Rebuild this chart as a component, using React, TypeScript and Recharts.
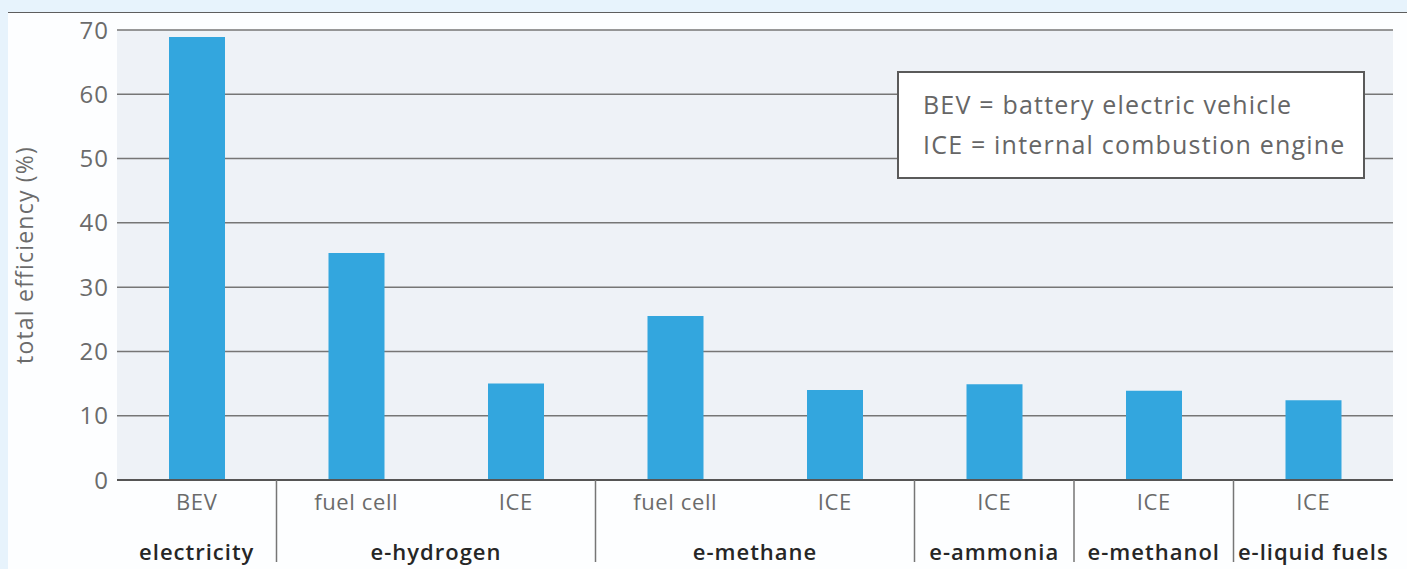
import { BarChart, Bar, XAxis, YAxis, CartesianGrid, Label } from 'recharts';

// bar categories (sub labels under each bar) and the group each bar belongs to
const techLabels = ['BEV', 'fuel cell', 'ICE', 'fuel cell', 'ICE', 'ICE', 'ICE', 'ICE'];
const groupLabels = ['electricity', 'e-hydrogen', 'e-methane', 'e-ammonia', 'e-methanol', 'e-liquid fuels'];
const barGroups = [0, 1, 1, 2, 2, 3, 4, 5];
const efficiency = [68.9, 35.3, 15.0, 25.5, 14.0, 14.9, 13.9, 12.4];
const yTicks = [0, 10, 20, 30, 40, 50, 60, 70];

const data = techLabels.map((t, i) => ({ id: i, tech: t, group: barGroups[i], value: efficiency[i] }));

const CHART_W = 1399;
const CHART_H = 556;
const MARGIN = { top: 17, right: 14, bottom: 9, left: 17 };
const Y_AXIS_W = 92;
const PLOT_W = CHART_W - MARGIN.left - MARGIN.right - Y_AXIS_W;
const BAND = PLOT_W / data.length;

const FONT = '"Open Sans", sans-serif';
const BAR_COLOR = '#33a6de';
const GRID_COLOR = '#767676';

function CategoryTick(props: any) {
    const { x, y, payload } = props;
    const i = payload.index ?? payload.value;
    const g = barGroups[i];
    const isFirst = i === 0 || barGroups[i - 1] !== g;
    const count = barGroups.filter((b) => b === g).length;
    const groupCenter = x + ((count - 1) * BAND) / 2;
    return (
        <g>
            <text x={x} y={y} dy={22} textAnchor="middle" fontFamily={FONT} fontSize={22} letterSpacing={0.6} fill="#6b6b6b">
                {techLabels[i]}
            </text>
            {isFirst && (
                <text x={groupCenter} y={y} dy={72} textAnchor="middle" fontFamily={FONT} fontSize={22} letterSpacing={1} fontWeight={600} fill="#262626">
                    {groupLabels[g]}
                </text>
            )}
            {isFirst && i > 0 && (
                <line x1={x - BAND / 2} x2={x - BAND / 2} y1={y - 8} y2={y + 74} stroke={GRID_COLOR} strokeWidth={1.5} />
            )}
        </g>
    );
}

export default function App() {
    return (
        <div style={{ position: 'fixed', left: 0, top: 0, width: 1407, height: 569, background: '#e7f3fc', overflow: 'hidden' }}>
            <div style={{ position: 'absolute', left: 8, top: 12, width: 1399, height: 557, background: '#fdfeff', borderTop: '1px solid #5e5e5e' }}>
                <BarChart width={CHART_W} height={CHART_H} data={data} margin={MARGIN} barSize={56}>
                    <CartesianGrid vertical={false} stroke={GRID_COLOR} strokeWidth={1.5} fill="#eef2f7" />
                    <XAxis
                        dataKey="id"
                        type="category"
                        height={80}
                        tickLine={false}
                        axisLine={{ stroke: '#555', strokeWidth: 2 }}
                        tick={<CategoryTick />}
                        interval={0}
                    />
                    <YAxis
                        width={Y_AXIS_W}
                        domain={[0, 70]}
                        ticks={yTicks}
                        tickLine={false}
                        axisLine={false}
                        tick={{ fontSize: 24, fill: '#6b6b6b', fontFamily: FONT, letterSpacing: 1 }}
                    >
                        <Label
                            value="total efficiency (%)"
                            angle={-90}
                            position="insideLeft"
                            offset={0}
                            style={{ textAnchor: 'middle', fontSize: 23, fill: '#6b6b6b', fontFamily: FONT, letterSpacing: 1.2 }}
                        />
                    </YAxis>
                    <Bar dataKey="value" fill={BAR_COLOR} isAnimationActive={false} />
                </BarChart>
                <div
                    style={{
                        position: 'absolute',
                        left: 889,
                        top: 58,
                        width: 468,
                        height: 108,
                        background: '#fff',
                        border: '2px solid #5a5a5a',
                        boxSizing: 'border-box',
                        fontFamily: FONT,
                        fontSize: 25,
                        letterSpacing: 1.2,
                        color: '#666',
                        padding: '11px 0 0 24px',
                        lineHeight: '40px',
                        whiteSpace: 'nowrap',
                    }}
                >
                    <div>BEV = battery electric vehicle</div>
                    <div>ICE = internal combustion engine</div>
                </div>
            </div>
        </div>
    );
}
